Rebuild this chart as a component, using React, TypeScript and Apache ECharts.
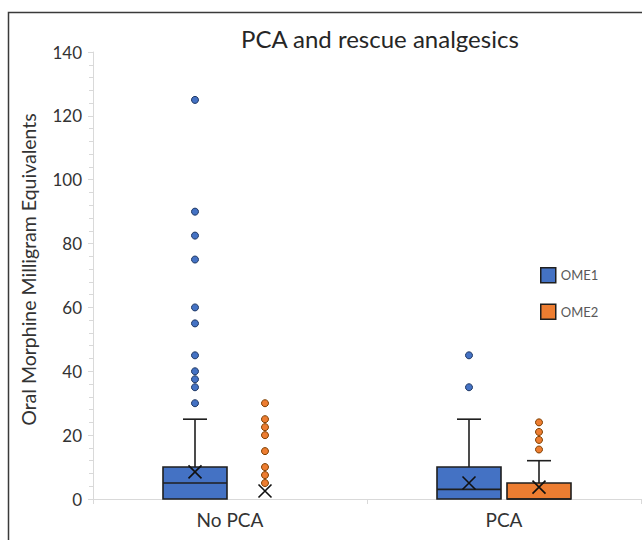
import React, { useEffect, useRef } from 'react';
import * as echarts from 'echarts';

const categories = ['No PCA', 'PCA'];
const seriesNames = ['OME1', 'OME2'];
// box stats per category: [min, Q1, median, Q3, max]
const ome1Box = [
  [0, 0, 5, 10, 25],
  [0, 0, 3, 10, 25],
];
const ome2Box = [
  [0, 0, 0, 0, 0],
  [0, 0, 0, 5, 12],
];
const ome1Mean = [8.5, 5];
const ome2Mean = [2.5, 3.7];
const ome1Outliers = [
  [125, 90, 82.5, 75, 60, 55, 45, 40, 37.5, 35, 30],
  [45, 35],
];
const ome2Outliers = [
  [30, 25, 22.5, 20, 15, 10, 7.5, 5],
  [24, 21, 18.5, 15.5],
];

const FONT = 'Lato, "Open Sans", sans-serif';
const BLUE = '#4472C4';
const ORANGE = '#ED7D31';
const DARK = '#1f1f1f';
const OFFSET = 35;

const boxData = (rows: number[][]) => rows.map((r, i) => [i, ...r]);
const pointData = (rows: number[][]) => rows.flatMap((r, i) => r.map((v) => [i, v]));
const meanData = (vals: number[]) => vals.map((v, i) => [i, v]);

const makeRender = (offset: number, color: string) => (params: any, api: any) => {
  const ci = api.value(0);
  const c = (v: number) => api.coord([ci, v]);
  const cx = c(api.value(1))[0] + offset;
  const yMin = c(api.value(1))[1];
  const yQ1 = c(api.value(2))[1];
  const yMed = c(api.value(3))[1];
  const yQ3 = c(api.value(4))[1];
  const yMax = c(api.value(5))[1];
  const half = 32;
  const cap = 12;
  const ls = { stroke: DARK, lineWidth: 1.6 };
  const children: any[] = [];
  if (yMax < yQ3 - 0.5) {
    children.push({ type: 'line', shape: { x1: cx, y1: yQ3, x2: cx, y2: yMax }, style: ls });
    children.push({ type: 'line', shape: { x1: cx - cap, y1: yMax, x2: cx + cap, y2: yMax }, style: ls });
  }
  if (yMin > yQ1 + 0.5) {
    children.push({ type: 'line', shape: { x1: cx, y1: yQ1, x2: cx, y2: yMin }, style: ls });
    children.push({ type: 'line', shape: { x1: cx - cap, y1: yMin, x2: cx + cap, y2: yMin }, style: ls });
  }
  if (yQ1 - yQ3 > 0.5) {
    children.push({
      type: 'rect',
      shape: { x: cx - half, y: yQ3, width: half * 2, height: yQ1 - yQ3 },
      style: { fill: color, stroke: DARK, lineWidth: 1.6 },
    });
    children.push({ type: 'line', shape: { x1: cx - half, y1: yMed, x2: cx + half, y2: yMed }, style: ls });
  }
  return { type: 'group', children };
};

export default function App() {
  const ref = useRef<HTMLDivElement>(null);
  useEffect(() => {
    if (!ref.current) return;
    const chart = echarts.init(ref.current, undefined, { renderer: 'svg' });
    const meanSymbol = 'path://M0,0L10,10M10,0L0,10';
    chart.setOption({
      animation: false,
      backgroundColor: '#ffffff',
      title: {
        text: 'PCA and rescue analgesics',
        left: 236,
        top: 21,
        textStyle: { fontFamily: FONT, fontSize: 24, fontWeight: 'normal', color: '#262626' },
      },
      graphic: [
        {
          type: 'rect',
          silent: true,
          shape: { x: 8.5, y: 12.5, width: 700, height: 600 },
          style: { fill: 'none', stroke: '#3a3a3a', lineWidth: 1.5 },
        },
      ],
      legend: {
        orient: 'vertical',
        left: 535,
        top: 262,
        itemWidth: 15,
        itemHeight: 15,
        itemGap: 20,
        icon: 'rect',
        textStyle: { fontFamily: FONT, fontSize: 13, color: '#595959' },
        data: [
          { name: seriesNames[0], itemStyle: { color: BLUE, borderColor: DARK, borderWidth: 1.5 } },
          { name: seriesNames[1], itemStyle: { color: ORANGE, borderColor: DARK, borderWidth: 1.5 } },
        ],
      },
      grid: { left: 93, right: 1, top: 52, bottom: 41 },
      xAxis: {
        type: 'category',
        data: categories,
        axisLine: { lineStyle: { color: '#d9d9d9', width: 1 } },
        axisTick: { show: true, length: 5, lineStyle: { color: '#d9d9d9' } },
        axisLabel: { fontFamily: FONT, fontSize: 19, color: '#333333', margin: 11 },
        splitLine: { show: false },
      },
      yAxis: {
        type: 'value',
        min: 0,
        max: 140,
        interval: 20,
        name: 'Oral Morphine Milligram Equivalents',
        nameLocation: 'middle',
        nameGap: 55,
        nameTextStyle: { fontFamily: FONT, fontSize: 19.5, color: '#333333', padding: [0, 0, 0, 12] },
        axisLine: { show: true, lineStyle: { color: '#d9d9d9', width: 1 } },
        axisTick: { show: true, length: 5, lineStyle: { color: '#d9d9d9' } },
        minorTick: { show: true, splitNumber: 5, length: 4, lineStyle: { color: '#d9d9d9' } },
        axisLabel: { fontFamily: FONT, fontSize: 17, color: '#333333', margin: 11 },
        splitLine: { show: false },
      },
      series: [
        {
          name: seriesNames[0],
          type: 'custom',
          renderItem: makeRender(-OFFSET, BLUE),
          encode: { x: 0, y: [1, 2, 3, 4, 5] },
          data: boxData(ome1Box),
          itemStyle: { color: BLUE },
          z: 2,
        },
        {
          name: seriesNames[1],
          type: 'custom',
          renderItem: makeRender(OFFSET, ORANGE),
          encode: { x: 0, y: [1, 2, 3, 4, 5] },
          data: boxData(ome2Box),
          itemStyle: { color: ORANGE },
          z: 2,
        },
        {
          name: seriesNames[0],
          type: 'scatter',
          data: pointData(ome1Outliers),
          symbolSize: 7,
          symbolOffset: [-OFFSET, 0],
          itemStyle: { color: BLUE, borderColor: '#1f3864', borderWidth: 1, opacity: 1 },
          z: 3,
        },
        {
          name: seriesNames[1],
          type: 'scatter',
          data: pointData(ome2Outliers),
          symbolSize: 7,
          symbolOffset: [OFFSET, 0],
          itemStyle: { color: ORANGE, borderColor: '#7f3f00', borderWidth: 1, opacity: 1 },
          z: 3,
        },
        {
          name: seriesNames[0],
          type: 'scatter',
          data: meanData(ome1Mean),
          symbol: meanSymbol,
          symbolSize: 13,
          symbolOffset: [-OFFSET, 0],
          itemStyle: { color: 'transparent', borderColor: '#111', borderWidth: 1.6, opacity: 1 },
          z: 4,
        },
        {
          name: seriesNames[1],
          type: 'scatter',
          data: meanData(ome2Mean),
          symbol: meanSymbol,
          symbolSize: 13,
          symbolOffset: [OFFSET, 0],
          itemStyle: { color: 'transparent', borderColor: '#111', borderWidth: 1.6, opacity: 1 },
          z: 4,
        },
      ],
    });
    return () => chart.dispose();
  }, []);
  return (
    <div
      ref={ref}
      style={{ position: 'absolute', left: 0, top: 0, width: 642, height: 540, background: '#fff' }}
    />
  );
}
